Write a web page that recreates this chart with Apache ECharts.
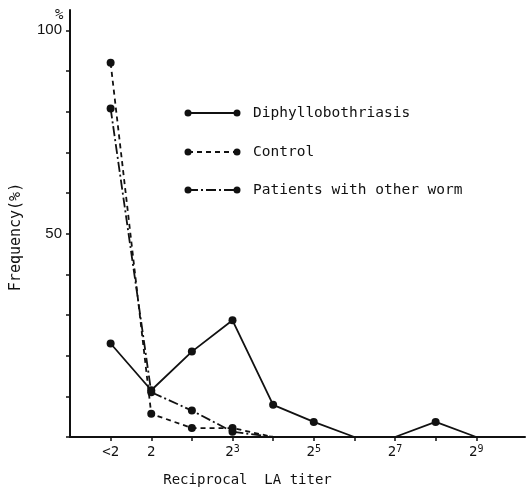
<!DOCTYPE html>
<html>
<head>
<meta charset="utf-8">
<script src="https://cdn.jsdelivr.net/npm/echarts@6/dist/echarts.min.js"></script>
<style>html,body{margin:0;padding:0;background:#fff}#c{width:529px;height:494px}</style>
</head>
<body>
<div id="c"></div>
<script>
// x positions: index 0 = "<2", 1 = 2, 2 = 2^2, ... 9 = 2^9
const tickLabels = ['<2', '2', '', '2{s|3}', '', '2{s|5}', '', '2{s|7}', '', '2{s|9}'];
const xIndex = [0, 1, 2, 3, 4, 5, 6, 7, 8, 9];
const yTicks = [0, 10, 20, 30, 40, 50, 60, 70, 80, 90, 100];
const yLabels = [50, 100];
const diphyllobothriasis = [23, 11.5, 21, 28.7, 7.9, 3.7, 0, 0, 3.7, 0];
const control = [92, 5.7, 2.2, 2.2, 0];
const otherWorm = [80.8, 11, 6.5, 1.3, 0];
const seriesNames = ['Diphyllobothriasis', 'Control', 'Patients with other worm'];

const ink = '#111';
const mono = 'DejaVu Sans Mono';
const dashTypes = ['solid', [5, 4], [10, 3, 2, 3]];

function pairs(arr) { return arr.map((v, i) => [xIndex[i], v]); }

const chart = echarts.init(document.getElementById('c'), null, {renderer: 'canvas'});

const mkSeries = (name, data, dash) => ({
  name: name,
  type: 'line',
  data: pairs(data),
  symbol: 'circle',
  symbolSize: v => (v[1] > 0 ? 8 : 0),
  showSymbol: true,
  itemStyle: {color: ink},
  lineStyle: {color: ink, width: 1.8, type: dash},
  animation: false,
  z: 3
});

// Legend drawn as decoration: line with dots at both ends + text
const legendRows = [113, 152, 190];
const legendGraphics = [];
seriesNames.forEach((n, i) => {
  const y = legendRows[i];
  legendGraphics.push({type: 'line', shape: {x1: 188, y1: y, x2: 237, y2: y},
    style: {stroke: ink, lineWidth: 1.8, lineDash: dashTypes[i] === 'solid' ? null : dashTypes[i]}});
  legendGraphics.push({type: 'circle', shape: {cx: 188, cy: y, r: 3.5}, style: {fill: ink}});
  legendGraphics.push({type: 'circle', shape: {cx: 237, cy: y, r: 3.5}, style: {fill: ink}});
  legendGraphics.push({type: 'text', x: 253, y: y,
    style: {text: n, fill: ink, font: '14.5px "' + mono + '"', textVerticalAlign: 'middle'}});
});
legendGraphics.push({type: 'text', x: 55, y: 15,
  style: {text: '%', fill: ink, font: '14px "' + mono + '"', textVerticalAlign: 'middle'}});

chart.setOption({
  backgroundColor: '#fff',
  animation: false,
  grid: {left: 70, right: 4, top: 10, bottom: 57},
  xAxis: {
    type: 'value', min: -1, max: 10.2, interval: 1,
    splitLine: {show: false},
    axisLine: {show: true, onZero: false, lineStyle: {color: ink, width: 2}},
    axisTick: {show: true, length: 4, lineStyle: {color: ink, width: 1.5}, customValues: xIndex},
    axisLabel: {color: ink, fontFamily: mono, fontSize: 14, margin: 7,
      customValues: [0, 1, 3, 5, 7, 9],
      formatter: v => (Number.isInteger(v) && v >= 0 && v < tickLabels.length ? tickLabels[v] : ''),
      rich: {
        s: {fontFamily: mono, fontSize: 10, lineHeight: 10, verticalAlign: 'top', color: ink}
      },
      lineHeight: 17, verticalAlign: 'top'
    },
    name: 'Reciprocal  LA titer', nameLocation: 'middle', nameGap: 36,
    nameTextStyle: {color: ink, fontFamily: mono, fontSize: 14, padding: [0, 100, 0, 0]}
  },
  yAxis: {
    type: 'value', min: 0, max: 105, interval: 10,
    splitLine: {show: false},
    axisLine: {show: true, onZero: false, lineStyle: {color: ink, width: 2}},
    axisTick: {show: true, length: 4, lineStyle: {color: ink, width: 1.5}, customValues: yTicks},
    axisLabel: {color: ink, fontFamily: 'Liberation Sans', fontSize: 15, margin: 8,
      customValues: yLabels,
      formatter: v => (yLabels.indexOf(v) >= 0 ? String(v) : '')},
    name: 'Frequency(%)', nameLocation: 'middle', nameGap: 46, nameRotate: 90,
    nameTextStyle: {color: ink, fontFamily: mono, fontSize: 15, padding: [0, 27, 0, 0]}
  },
  graphic: legendGraphics,
  series: [
    mkSeries(seriesNames[0], diphyllobothriasis, dashTypes[0]),
    mkSeries(seriesNames[1], control, dashTypes[1]),
    mkSeries(seriesNames[2], otherWorm, dashTypes[2])
  ]
});
</script>
</body>
</html>
